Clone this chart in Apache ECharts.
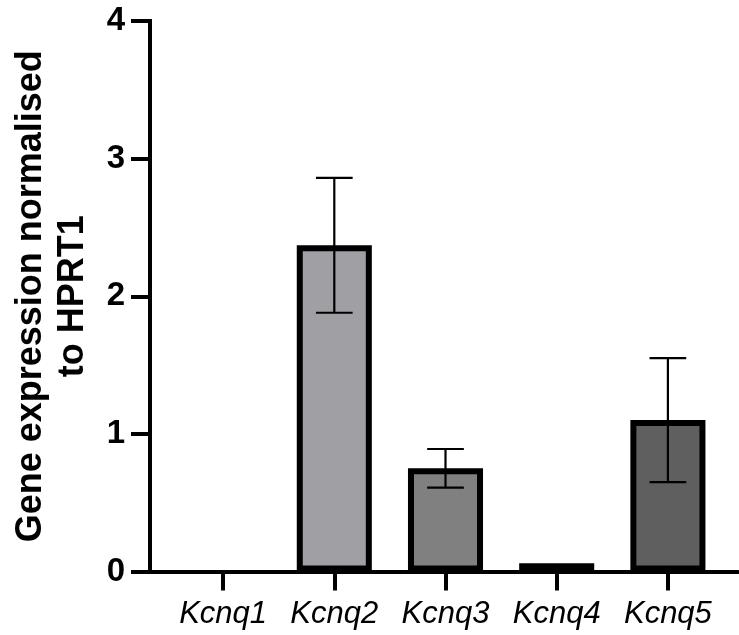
<!DOCTYPE html>
<html>
<head>
<meta charset="utf-8">
<script src="https://cdn.jsdelivr.net/npm/echarts@6/dist/echarts.min.js"></script>
<style>
html,body{margin:0;padding:0;background:#fff;}
#chart{width:739px;height:635px;}
</style>
</head>
<body>
<div id="chart"></div>
<script>
const categories = ['Kcnq1', 'Kcnq2', 'Kcnq3', 'Kcnq4', 'Kcnq5'];
const means = [0, 2.37, 0.75, 0.06, 1.10];
const errors = [0, 0.49, 0.14, 0, 0.45];
const yMin = 0, yMax = 4, yStep = 1;
const yTitle = 'Gene expression normalised\nto HPRT1';

const barFills = ['#c8c8c8', '#a09fa4', '#808080', '#404040', '#5f5f5f'];
const FONT = 'Liberation Sans, Arial, sans-serif';

const chart = echarts.init(document.getElementById('chart'), null, {renderer: 'canvas'});

const barData = means.map((m, i) => [i, m]);
const errData = means.map((m, i) => [i, m, errors[i]]);

const option = {
  animation: false,
  backgroundColor: '#ffffff',
  grid: [
    {left: 167.5, right: 15.5, top: 21, bottom: 63.5, containLabel: false},
    {left: 150, right: 1, top: 21, bottom: 63.5, containLabel: false}
  ],
  xAxis: [
    {
      gridIndex: 0, type: 'category', data: categories,
      axisLine: {show: false},
      axisTick: {show: true, alignWithLabel: true, interval: 0, length: 19, lineStyle: {color: '#000', width: 4}},
      axisLabel: {color: '#000', fontFamily: FONT, fontStyle: 'italic', fontSize: 31, margin: 27, interval: 0, hideOverlap: false},
      splitLine: {show: false}
    },
    {
      gridIndex: 1, type: 'value', min: 0, max: 1,
      axisLine: {show: true, lineStyle: {color: '#000', width: 4}},
      axisTick: {show: false}, axisLabel: {show: false}, splitLine: {show: false}
    }
  ],
  yAxis: [
    {gridIndex: 0, type: 'value', min: yMin, max: yMax, interval: yStep, show: false},
    {
      gridIndex: 1, type: 'value', min: yMin, max: yMax, interval: yStep,
      axisLine: {show: true, lineStyle: {color: '#000', width: 4, cap: 'square'}},
      axisTick: {show: true, length: 19, lineStyle: {color: '#000', width: 4}},
      axisLabel: {color: '#000', fontFamily: FONT, fontWeight: 'bold', fontSize: 33, margin: 25},
      splitLine: {show: false},
      name: yTitle, nameLocation: 'middle', nameGap: 56,
      nameTextStyle: {color: '#000', fontFamily: FONT, fontWeight: 'bold', fontSize: 36, lineHeight: 42, align: 'center'}
    }
  ],
  series: [
    {
      type: 'custom', xAxisIndex: 0, yAxisIndex: 0, z: 2,
      data: barData,
      renderItem: function (params, api) {
        const idx = api.value(0), v = api.value(1);
        if (!(v > 0)) return null;
        const top = api.coord([idx, v]);
        const base = api.coord([idx, 0]);
        const bw = api.size([1, 0])[0] * 0.675;
        const lw = 6;
        return {
          type: 'rect',
          shape: {x: top[0] - bw / 2 + lw / 2, y: top[1] + lw / 2, width: bw - lw, height: Math.max(base[1] - top[1] - lw, 0.1)},
          style: {fill: barFills[params.dataIndex], stroke: '#000', lineWidth: lw}
        };
      }
    },
    {
      type: 'custom', xAxisIndex: 0, yAxisIndex: 0, z: 3,
      data: errData,
      renderItem: function (params, api) {
        const idx = api.value(0), m = api.value(1), e = api.value(2);
        if (!(e > 0)) return null;
        const hi = api.coord([idx, m + e]);
        const lo = api.coord([idx, m - e]);
        const cap = api.size([1, 0])[0] * 0.33;
        const st = {stroke: '#000', lineWidth: 2.2};
        return {
          type: 'group',
          children: [
            {type: 'line', shape: {x1: hi[0], y1: hi[1], x2: lo[0], y2: lo[1]}, style: st},
            {type: 'line', shape: {x1: hi[0] - cap / 2, y1: hi[1], x2: hi[0] + cap / 2, y2: hi[1]}, style: st},
            {type: 'line', shape: {x1: lo[0] - cap / 2, y1: lo[1], x2: lo[0] + cap / 2, y2: lo[1]}, style: st}
          ]
        };
      }
    }
  ]
};
chart.setOption(option);
</script>
</body>
</html>
